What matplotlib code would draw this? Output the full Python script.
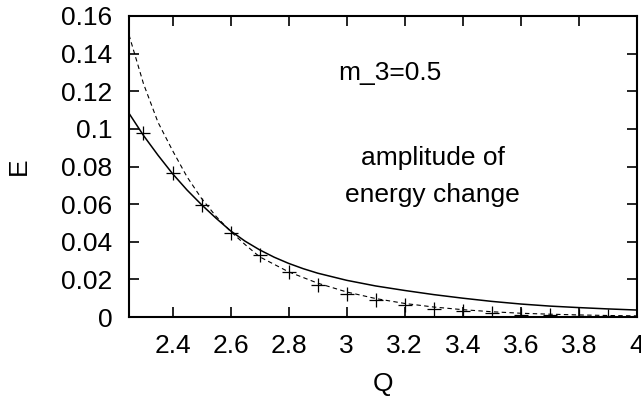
import numpy as np
import matplotlib
matplotlib.use('Agg')
import matplotlib.pyplot as plt

plt.rcParams['font.family'] = ['Liberation Sans', 'DejaVu Sans']
plt.rcParams['font.size'] = 19

# solid curve
q_solid = [2.25, 2.3, 2.35, 2.4, 2.45, 2.5, 2.55, 2.6, 2.65, 2.7, 2.75, 2.8,
           2.85, 2.9, 3.0, 3.1, 3.2, 3.3, 3.4, 3.5, 3.6, 3.7, 3.8, 3.9, 4.0]
e_solid = [0.1083, 0.0965, 0.086, 0.0762, 0.0675, 0.0597, 0.0525, 0.0458,
           0.0403, 0.0357, 0.0318, 0.0285, 0.0257, 0.0233, 0.0195, 0.0165,
           0.0141, 0.0119, 0.0100, 0.0083, 0.0069, 0.0058, 0.0050, 0.0043,
           0.0037]

# dashed curve
q_dash = [2.25, 2.3, 2.35, 2.4, 2.45, 2.5, 2.55, 2.6, 2.65, 2.7, 2.8, 2.9, 3.0,
          3.1, 3.2, 3.3, 3.4, 3.5, 3.6, 3.7, 3.8, 3.9, 4.0]
e_dash = [0.150, 0.124, 0.1035, 0.0885, 0.0745, 0.063, 0.0535, 0.0455, 0.0385,
          0.032, 0.024, 0.018, 0.0133, 0.0098, 0.0072, 0.0053, 0.0039, 0.0028,
          0.0020, 0.0015, 0.0011, 0.0008, 0.0006]

# crosses
q_pts = [2.3, 2.4, 2.5, 2.6, 2.7, 2.8, 2.9, 3.0, 3.1, 3.2, 3.3, 3.4, 3.5,
         3.6, 3.7, 3.8, 3.9]
e_pts = [0.098, 0.0765, 0.0595, 0.0445, 0.033, 0.024, 0.017, 0.012, 0.0088,
         0.0062, 0.0044, 0.0030, 0.0020, 0.0012, 0.0009, 0.0006, 0.0004]

x_ticks = [2.4, 2.6, 2.8, 3.0, 3.2, 3.4, 3.6, 3.8, 4.0]
x_labels = ['2.4', '2.6', '2.8', '3', '3.2', '3.4', '3.6', '3.8', '4']
y_ticks = [0, 0.02, 0.04, 0.06, 0.08, 0.1, 0.12, 0.14, 0.16]
y_labels = ['0', '0.02', '0.04', '0.06', '0.08', '0.1', '0.12', '0.14', '0.16']

fig = plt.figure(figsize=(6.41, 3.98), dpi=100)
ax = fig.add_axes([0.2012, 0.2035, 0.7926, 0.7563])

ax.plot(q_solid, e_solid, color='black', lw=1.1)
ax.plot(q_dash, e_dash, color='black', lw=0.8, dashes=(4, 3))
ax.plot(q_pts, e_pts, ls='none', marker='+', color='black', ms=9.5, mew=0.9)

ax.set_xlim(2.25, 4.0)
ax.set_ylim(0, 0.16)
ax.set_xticks(x_ticks)
ax.set_xticklabels(x_labels)
ax.set_yticks(y_ticks)
ax.set_yticklabels(y_labels)
ax.tick_params(direction='in', length=7, width=1.2, top=True, right=True, pad=12)
for s in ax.spines.values():
    s.set_linewidth(1.5)

ax.set_xlabel('Q', labelpad=10)
ax.set_ylabel('E', labelpad=22)

ax.text(0.514, 0.811, 'm_3=0.5', transform=ax.transAxes, ha='center', va='center')
ax.text(0.598, 0.528, 'amplitude of', transform=ax.transAxes, ha='center', va='center')
ax.text(0.598, 0.405, 'energy change', transform=ax.transAxes, ha='center', va='center')

fig.savefig('out.png', dpi=100)
